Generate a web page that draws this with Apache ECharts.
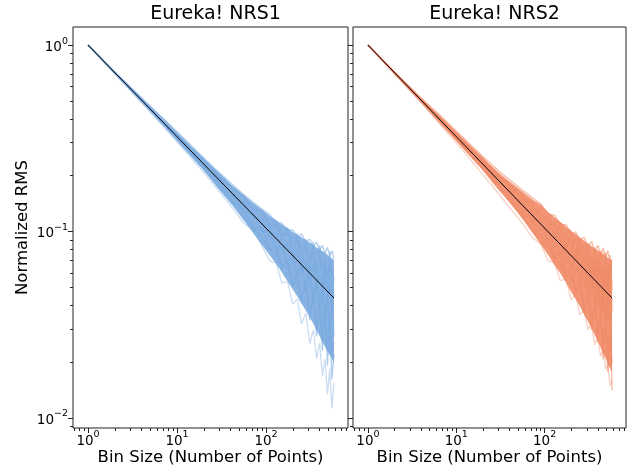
<!DOCTYPE html>
<html>
<head>
<meta charset="utf-8">
<script src="https://cdn.jsdelivr.net/npm/echarts@6/dist/echarts.min.js"></script>
<style>
  html, body { margin: 0; padding: 0; background: #fff; }
  #chart { width: 629px; height: 466px; }
</style>
</head>
<body>
<div id="chart"></div>
<script>
// bin sizes shared by every trace
var binSizes = [1, 2, 4, 7, 12, 20, 30, 42, 56, 72, 90, 110, 130, 150, 175, 200, 225, 250, 280, 310, 340, 370, 400, 430, 460, 490, 520, 550, 580];

// expected 1/sqrt(N) line (end points)
var expectedBins = [1, 580];
var expectedRms = [1.0, 0.044];

// Eureka! NRS1: dense part of the bundle of traces (upper / lower edge)
var nrs1Upper = [1, 0.715, 0.514, 0.397, 0.310, 0.246, 0.205, 0.176, 0.157, 0.142, 0.131, 0.121, 0.115, 0.109, 0.104, 0.0993, 0.0959, 0.0931, 0.0899, 0.0873, 0.0847, 0.0822, 0.0803, 0.0784, 0.0769, 0.0750, 0.0733, 0.0717, 0.0704];
var nrs1Lower = [1, 0.707, 0.498, 0.373, 0.280, 0.212, 0.167, 0.138, 0.115, 0.098, 0.0847, 0.0746, 0.0669, 0.0607, 0.0539, 0.0489, 0.0448, 0.0412, 0.0377, 0.0347, 0.0320, 0.0296, 0.0275, 0.0255, 0.0242, 0.0229, 0.0218, 0.0207, 0.0198];

// Eureka! NRS1 traces
var nrs1Traces = [
  [1, 0.718, 0.521, 0.404, 0.316, 0.248, 0.207, 0.179, 0.158, 0.143, 0.132, 0.123, 0.112, 0.111, 0.101, 0.102, 0.0931, 0.0971, 0.0881, 0.0909, 0.0829, 0.0877, 0.0792, 0.0845, 0.0764, 0.0822, 0.0742, 0.0789, 0.0713],
  [1, 0.715, 0.516, 0.397, 0.307, 0.244, 0.197, 0.173, 0.153, 0.131, 0.125, 0.109, 0.108, 0.0958, 0.0966, 0.0852, 0.0896, 0.0785, 0.0818, 0.0718, 0.0778, 0.0630, 0.0739, 0.0636, 0.0715, 0.0574, 0.0696, 0.0586, 0.0616],
  [1, 0.711, 0.511, 0.381, 0.301, 0.225, 0.194, 0.155, 0.145, 0.118, 0.117, 0.0935, 0.0990, 0.0787, 0.0871, 0.0667, 0.0805, 0.0585, 0.0704, 0.0508, 0.0686, 0.0493, 0.0581, 0.0417, 0.0616, 0.0406, 0.0534, 0.0361, 0.0462],
  [1, 0.707, 0.501, 0.385, 0.286, 0.232, 0.179, 0.160, 0.128, 0.125, 0.099, 0.102, 0.0789, 0.0855, 0.0649, 0.0778, 0.0560, 0.0665, 0.0472, 0.0658, 0.0412, 0.0537, 0.0359, 0.0534, 0.0320, 0.0454, 0.0278, 0.0451, 0.0273],
  [1, 0.704, 0.496, 0.373, 0.280, 0.216, 0.173, 0.144, 0.122, 0.105, 0.0924, 0.0796, 0.0779, 0.0650, 0.0649, 0.0519, 0.0546, 0.0439, 0.0503, 0.0371, 0.0429, 0.0318, 0.0370, 0.0285, 0.0355, 0.0249, 0.0306, 0.0226, 0.0255],
  [1, 0.700, 0.491, 0.366, 0.274, 0.207, 0.164, 0.134, 0.111, 0.102, 0.0836, 0.0697, 0.0679, 0.0530, 0.0539, 0.0408, 0.0434, 0.0319, 0.0365, 0.0251, 0.0297, 0.0208, 0.0253, 0.0168, 0.0207, 0.0134, 0.0186, 0.0113, 0.0154],
  [1, 0.718, 0.516, 0.400, 0.310, 0.239, 0.203, 0.170, 0.156, 0.132, 0.130, 0.105, 0.115, 0.0898, 0.105, 0.0741, 0.0980, 0.0632, 0.0912, 0.0598, 0.0887, 0.0493, 0.0845, 0.0484, 0.0740, 0.0421, 0.0780, 0.0415, 0.0572],
  [1, 0.707, 0.506, 0.377, 0.292, 0.219, 0.184, 0.144, 0.132, 0.105, 0.106, 0.0796, 0.0844, 0.0633, 0.0713, 0.0504, 0.0616, 0.0412, 0.0566, 0.0335, 0.0486, 0.0274, 0.0465, 0.0229, 0.0404, 0.0191, 0.0362, 0.0162, 0.0220]
];

// Eureka! NRS2: dense part of the bundle of traces (upper / lower edge)
var nrs2Upper = [1, 0.715, 0.516, 0.400, 0.313, 0.248, 0.207, 0.182, 0.164, 0.149, 0.139, 0.127, 0.119, 0.113, 0.106, 0.101, 0.0966, 0.0931, 0.0893, 0.0861, 0.0835, 0.0811, 0.0792, 0.0774, 0.0759, 0.0741, 0.0724, 0.0708, 0.0695];
var nrs2Lower = [1, 0.707, 0.496, 0.372, 0.280, 0.214, 0.169, 0.139, 0.117, 0.0992, 0.0858, 0.0746, 0.0660, 0.0599, 0.0531, 0.0474, 0.0434, 0.0399, 0.0359, 0.0329, 0.0303, 0.0279, 0.0259, 0.0239, 0.0222, 0.0210, 0.0195, 0.0185, 0.0176];

// Eureka! NRS2 traces
var nrs2Traces = [
  [1, 0.718, 0.521, 0.408, 0.319, 0.253, 0.212, 0.186, 0.167, 0.152, 0.141, 0.124, 0.122, 0.109, 0.109, 0.0963, 0.0994, 0.0898, 0.0931, 0.0825, 0.0887, 0.0778, 0.0845, 0.0738, 0.0818, 0.0717, 0.0789, 0.0667, 0.0713],
  [1, 0.715, 0.514, 0.397, 0.310, 0.239, 0.203, 0.168, 0.156, 0.132, 0.127, 0.109, 0.110, 0.0923, 0.0990, 0.0830, 0.0910, 0.0732, 0.0849, 0.0688, 0.0715, 0.0575, 0.0729, 0.0570, 0.0641, 0.0516, 0.0673, 0.0519, 0.0550],
  [1, 0.711, 0.501, 0.389, 0.289, 0.235, 0.180, 0.165, 0.131, 0.129, 0.101, 0.105, 0.0825, 0.0923, 0.0681, 0.0815, 0.0588, 0.0745, 0.0503, 0.0688, 0.0446, 0.0647, 0.0391, 0.0560, 0.0355, 0.0574, 0.0325, 0.0505, 0.0374],
  [1, 0.707, 0.511, 0.377, 0.304, 0.223, 0.196, 0.152, 0.147, 0.114, 0.119, 0.0896, 0.101, 0.0752, 0.0887, 0.0630, 0.0805, 0.0545, 0.0742, 0.0478, 0.0686, 0.0416, 0.0644, 0.0377, 0.0567, 0.0335, 0.0580, 0.0298, 0.0440],
  [1, 0.704, 0.496, 0.370, 0.280, 0.214, 0.169, 0.142, 0.120, 0.104, 0.0880, 0.0836, 0.0697, 0.0684, 0.0570, 0.0578, 0.0476, 0.0499, 0.0403, 0.0431, 0.0343, 0.0384, 0.0296, 0.0336, 0.0256, 0.0296, 0.0223, 0.0271, 0.0198],
  [1, 0.700, 0.491, 0.362, 0.271, 0.202, 0.160, 0.131, 0.111, 0.0931, 0.0858, 0.0697, 0.0679, 0.0547, 0.0554, 0.0430, 0.0462, 0.0359, 0.0377, 0.0299, 0.0320, 0.0247, 0.0275, 0.0214, 0.0237, 0.0182, 0.0195, 0.0149, 0.0158],
  [1, 0.718, 0.516, 0.400, 0.313, 0.248, 0.199, 0.176, 0.150, 0.142, 0.116, 0.119, 0.0935, 0.108, 0.0792, 0.0978, 0.0686, 0.0918, 0.0598, 0.0867, 0.0526, 0.0822, 0.0475, 0.0794, 0.0434, 0.0774, 0.0394, 0.0749, 0.0484],
  [1, 0.707, 0.498, 0.373, 0.286, 0.218, 0.177, 0.147, 0.125, 0.115, 0.0924, 0.0915, 0.0715, 0.0770, 0.0570, 0.0652, 0.0448, 0.0572, 0.0365, 0.0502, 0.0297, 0.0449, 0.0253, 0.0407, 0.0207, 0.0373, 0.0176, 0.0343, 0.0141]
];

// ticks
var xTicks = [1, 10, 100];
var xTickExps = ['0', '1', '2'];
var yTicks = [0.01, 0.1, 1];
var yTickExps = ['\u22122', '\u22121', '0'];
var xMinorTicks = [0.7, 0.8, 0.9, 2, 3, 4, 5, 6, 7, 8, 9, 20, 30, 40, 50, 60, 70, 80, 90, 200, 300, 400, 500, 600, 700, 800];
var yMinorTicks = [0.009, 0.02, 0.03, 0.04, 0.05, 0.06, 0.07, 0.08, 0.09, 0.2, 0.3, 0.4, 0.5, 0.6, 0.7, 0.8, 0.9];

var titles = ['Eureka! NRS1', 'Eureka! NRS2'];
var lineColors = ['#7aaadf', '#f08966'];

var FONT = 'DejaVu Sans';
var xMin = 0.678, xMax = 834;
var yMin = 0.00884, yMax = 1.25;

var chart = echarts.init(document.getElementById('chart'));

function powLabel(ticks, exps) {
    return function (value) {
        for (var i = 0; i < ticks.length; i++) {
            if (Math.abs(ticks[i] - value) / ticks[i] < 1e-6) {
                return '{b|10}{s|' + exps[i] + '}';
            }
        }
        return '';
    };
}

var labelRich = {
    b: {fontFamily: FONT, fontSize: 13.5, color: '#000', lineHeight: 18, verticalAlign: 'bottom'},
    s: {fontFamily: FONT, fontSize: 9.5, color: '#000', lineHeight: 10, verticalAlign: 'top'}
};

var grids = [
    {left: 73, top: 27, width: 275, height: 401},
    {left: 353, top: 27, width: 273, height: 401}
];

var xAxes = [], yAxes = [], series = [];

grids.forEach(function (g, gi) {
    g.show = true;
    g.borderColor = '#222';
    g.borderWidth = 1;
    g.outerBoundsMode = 'none';
    g.containLabel = false;

    // major x axis
    xAxes.push({
        type: 'log', logBase: 10, gridIndex: gi, position: 'bottom', min: xMin, max: xMax,
        name: 'Bin Size (Number of Points)', nameLocation: 'middle', nameGap: 21,
        nameMoveOverlap: false,
        nameTextStyle: {fontFamily: FONT, fontSize: 16.5, color: '#000'},
        axisLine: {show: false},
        splitLine: {show: false},
        axisTick: {show: true, inside: false, length: 5, customValues: xTicks, lineStyle: {color: '#222', width: 1}},
        axisLabel: {show: true, margin: 2, customValues: xTicks, formatter: powLabel(xTicks, xTickExps), rich: labelRich}
    });
    // minor x ticks
    xAxes.push({
        type: 'log', logBase: 10, gridIndex: gi, position: 'bottom', min: xMin, max: xMax,
        axisLine: {show: false}, splitLine: {show: false},
        axisTick: {show: true, length: 3, customValues: xMinorTicks, lineStyle: {color: '#222', width: 1}},
        axisLabel: {show: false}
    });
    // major y axis
    yAxes.push({
        type: 'log', logBase: 10, gridIndex: gi, position: 'left', min: yMin, max: yMax,
        name: gi === 0 ? 'Normalized RMS' : '', nameLocation: 'middle', nameGap: 42,
        nameMoveOverlap: false,
        nameTextStyle: {fontFamily: FONT, fontSize: 16.5, color: '#000'},
        axisLine: {show: false},
        splitLine: {show: false},
        axisTick: {show: true, length: 5, customValues: yTicks, lineStyle: {color: '#222', width: 1}},
        axisLabel: {show: gi === 0, margin: 5, customValues: yTicks, formatter: powLabel(yTicks, yTickExps), rich: labelRich}
    });
    // minor y ticks
    yAxes.push({
        type: 'log', logBase: 10, gridIndex: gi, position: 'left', min: yMin, max: yMax,
        axisLine: {show: false}, splitLine: {show: false},
        axisTick: {show: true, length: 3, customValues: yMinorTicks, lineStyle: {color: '#222', width: 1}},
        axisLabel: {show: false}
    });

    var upper = gi === 0 ? nrs1Upper : nrs2Upper;
    var lower = gi === 0 ? nrs1Lower : nrs2Lower;
    // filled dense core of the bundle
    series.push({
        type: 'custom',
        coordinateSystem: 'cartesian2d',
        xAxisIndex: gi * 2, yAxisIndex: gi * 2,
        silent: true, z: 1,
        data: [[1, 1]],
        renderItem: function (params, api) {
            var pts = [];
            for (var i = 0; i < binSizes.length; i++) {
                pts.push(api.coord([binSizes[i], upper[i]]));
            }
            for (var j = binSizes.length - 1; j >= 0; j--) {
                pts.push(api.coord([binSizes[j], lower[j]]));
            }
            return {
                type: 'polygon',
                shape: {points: pts},
                style: {fill: lineColors[gi], opacity: 0.9}
            };
        }
    });

    var traces = gi === 0 ? nrs1Traces : nrs2Traces;
    traces.forEach(function (t, ti) {
        series.push({
            type: 'line',
            xAxisIndex: gi * 2, yAxisIndex: gi * 2,
            showSymbol: false, symbol: 'none', silent: true,
            z: 2,
            lineStyle: {color: lineColors[gi], width: 1.3, opacity: ti === 5 ? 0.4 : 0.6},
            data: binSizes.map(function (b, i) { return [b, t[i]]; })
        });
    });
    series.push({
        type: 'line',
        xAxisIndex: gi * 2, yAxisIndex: gi * 2,
        showSymbol: false, symbol: 'none', silent: true,
        z: 5,
        lineStyle: {color: '#000', width: 1},
        data: expectedBins.map(function (b, i) { return [b, expectedRms[i]]; })
    });
});

var option = {
    animation: false,
    backgroundColor: '#fff',
    title: titles.map(function (t, i) {
        return {
            text: t,
            left: grids[i].left + grids[i].width / 2,
            top: 0,
            textAlign: 'center',
            textStyle: {fontFamily: FONT, fontSize: 19, fontWeight: 'normal', color: '#000'}
        };
    }),
    grid: grids,
    xAxis: xAxes,
    yAxis: yAxes,
    series: series
};

chart.setOption(option);
</script>
</body>
</html>
